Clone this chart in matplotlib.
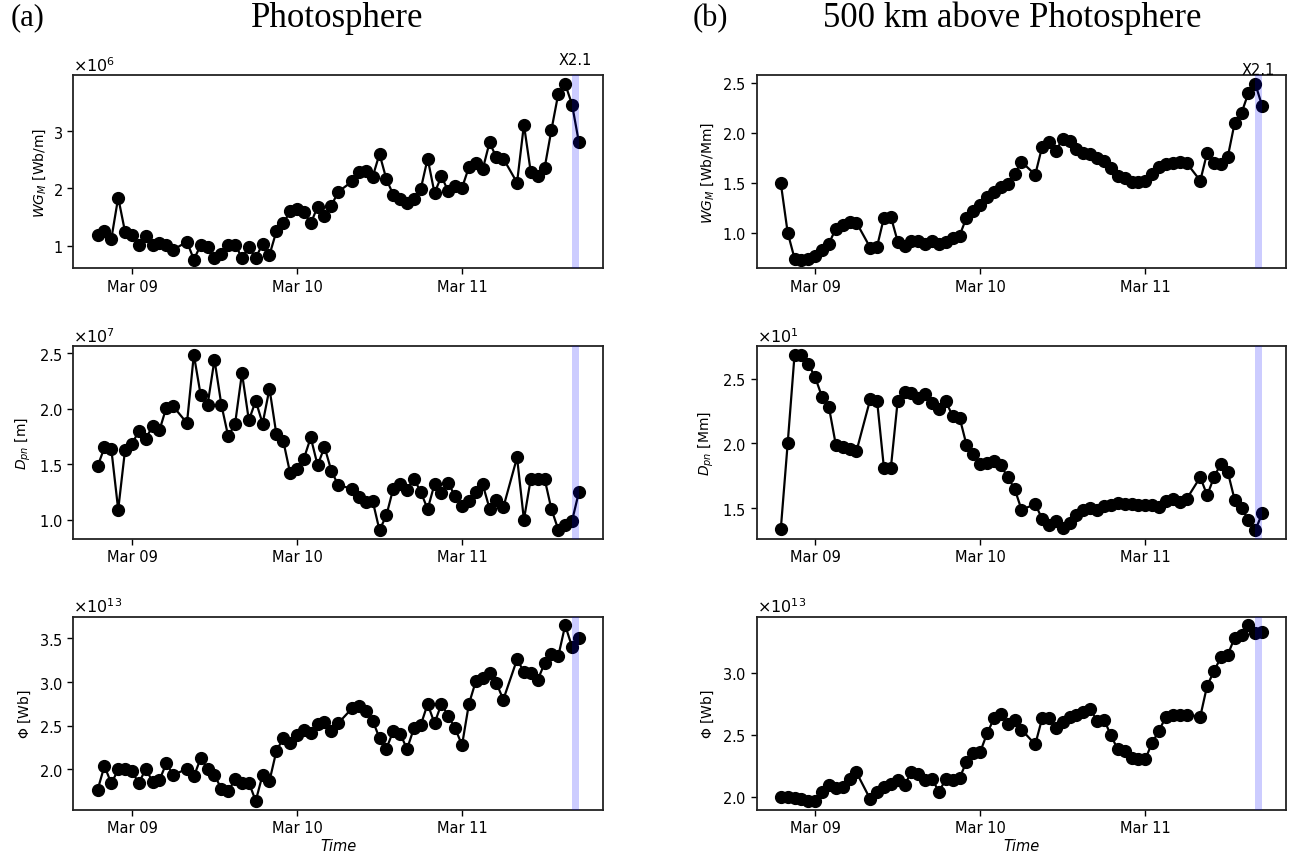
import pandas as pd
import matplotlib
matplotlib.use("Agg")
import matplotlib.pyplot as plt
import matplotlib.dates as mdates
from matplotlib.ticker import ScalarFormatter, MultipleLocator

# hourly samples 2015-03-08 19:00 .. 2015-03-11 17:00, three hours missing
start_time = "2015-03-08 19:00"
end_time = "2015-03-11 17:00"
missing_times = ["2015-03-09 07:00", "2015-03-10 07:00", "2015-03-11 07:00"]
flare_start = "2015-03-11 16:00"
flare_end = "2015-03-11 17:00"
flare_label = "X2.1"

# (a) photosphere
wgm_phot = [1.19, 1.25, 1.12, 1.84, 1.24, 1.19, 1.02, 1.17, 1.01, 1.05, 1.02, 0.93,
            1.07, 0.76, 1.01, 0.97, 0.79, 0.86, 1.02, 1.02, 0.79, 0.97, 0.79, 1.03,
            0.84, 1.25, 1.39, 1.60, 1.64, 1.59, 1.39, 1.68, 1.52, 1.70, 1.94,
            2.12, 2.28, 2.31, 2.20, 2.60, 2.16, 1.89, 1.81, 1.74, 1.82, 1.99, 2.52,
            1.92, 2.21, 1.95, 2.05, 2.01, 2.37, 2.44, 2.33, 2.80, 2.54, 2.52,
            2.10, 3.11, 2.28, 2.21, 2.35, 3.02, 3.65, 3.82, 3.46, 2.80]  # x1e6 Wb/m
dpn_phot = [1.48, 1.65, 1.635, 1.09, 1.63, 1.68, 1.80, 1.73, 1.84, 1.805, 2.01, 2.02,
            1.87, 2.485, 2.12, 2.035, 2.44, 2.035, 1.75, 1.865, 2.32, 1.895, 2.07, 1.865,
            2.18, 1.77, 1.71, 1.42, 1.46, 1.55, 1.74, 1.49, 1.655, 1.44, 1.31,
            1.28, 1.20, 1.16, 1.17, 0.905, 1.04, 1.28, 1.32, 1.27, 1.37, 1.25, 1.095,
            1.32, 1.24, 1.33, 1.21, 1.125, 1.17, 1.25, 1.32, 1.10, 1.18, 1.11,
            1.56, 1.00, 1.37, 1.37, 1.37, 1.095, 0.91, 0.955, 0.99, 1.25]  # x1e7 m
phi_phot = [1.765, 2.04, 1.84, 2.00, 2.01, 1.98, 1.84, 2.01, 1.86, 1.88, 2.07, 1.935,
            2.01, 1.92, 2.13, 2.01, 1.935, 1.78, 1.75, 1.89, 1.85, 1.85, 1.64, 1.94,
            1.87, 2.21, 2.36, 2.30, 2.40, 2.455, 2.42, 2.52, 2.54, 2.445, 2.53,
            2.70, 2.73, 2.67, 2.56, 2.36, 2.24, 2.44, 2.41, 2.235, 2.47, 2.51, 2.75,
            2.53, 2.75, 2.615, 2.47, 2.28, 2.75, 3.01, 3.05, 3.10, 2.99, 2.80,
            3.26, 3.12, 3.10, 3.025, 3.215, 3.32, 3.30, 3.65, 3.405, 3.50]  # x1e13 Wb

# (b) 500 km above photosphere
wgm_500 = [1.495, 1.00, 0.74, 0.73, 0.74, 0.77, 0.83, 0.89, 1.04, 1.08, 1.11, 1.10,
           0.85, 0.86, 1.15, 1.16, 0.91, 0.87, 0.92, 0.92, 0.89, 0.92, 0.89, 0.91,
           0.95, 0.97, 1.15, 1.22, 1.28, 1.355, 1.41, 1.455, 1.49, 1.59, 1.71,
           1.58, 1.86, 1.91, 1.82, 1.94, 1.92, 1.84, 1.80, 1.79, 1.75, 1.72, 1.65,
           1.57, 1.545, 1.51, 1.51, 1.52, 1.59, 1.66, 1.69, 1.70, 1.71, 1.70,
           1.52, 1.80, 1.70, 1.69, 1.76, 2.10, 2.20, 2.40, 2.49, 2.27]  # Wb/Mm
dpn_500 = [13.4, 20.0, 26.85, 26.85, 26.15, 25.1, 23.6, 22.8, 19.9, 19.7, 19.55, 19.4,
           23.4, 23.3, 18.1, 18.1, 23.3, 24.0, 23.9, 23.5, 23.85, 23.1, 22.65, 23.25,
           22.1, 22.0, 19.9, 19.2, 18.4, 18.5, 18.65, 18.3, 17.4, 16.5, 14.9,
           15.3, 14.2, 13.7, 14.0, 13.5, 13.85, 14.5, 14.9, 15.0, 14.9, 15.2, 15.25,
           15.4, 15.3, 15.3, 15.25, 15.25, 15.25, 15.1, 15.55, 15.7, 15.45, 15.7,
           17.4, 16.0, 17.4, 18.45, 17.8, 15.65, 15.0, 14.1, 13.3, 14.6]  # Mm
phi_500 = [2.00, 1.995, 1.99, 1.98, 1.965, 1.965, 2.035, 2.09, 2.07, 2.075, 2.14, 2.195,
           1.98, 2.04, 2.075, 2.105, 2.13, 2.095, 2.195, 2.18, 2.13, 2.14, 2.04, 2.14,
           2.13, 2.15, 2.28, 2.355, 2.36, 2.51, 2.63, 2.665, 2.585, 2.62, 2.54,
           2.42, 2.63, 2.63, 2.55, 2.60, 2.645, 2.66, 2.68, 2.705, 2.61, 2.62, 2.495,
           2.38, 2.37, 2.31, 2.30, 2.30, 2.435, 2.53, 2.645, 2.66, 2.655, 2.66,
           2.645, 2.895, 3.01, 3.125, 3.145, 3.28, 3.30, 3.38, 3.32, 3.325]  # x1e13 Wb

times = pd.date_range(start_time, end_time, freq="h")
times = times[~times.isin(pd.to_datetime(missing_times))]

def plot_panel(ax, values, scale, ylabel, step, show_flare_label, label_y):
    y = [v * scale for v in values]
    ax.plot(times, y, "-o", color="black", markersize=8.5, linewidth=1.6)
    ax.axvspan(pd.Timestamp(flare_start), pd.Timestamp(flare_end),
               color="blue", alpha=0.2, lw=0, zorder=3)
    ax.xaxis.set_major_locator(mdates.DayLocator())
    ax.xaxis.set_major_formatter(mdates.DateFormatter("%b %d"))
    ax.yaxis.set_major_locator(MultipleLocator(step * scale))
    fmt = ScalarFormatter(useMathText=True)
    fmt.set_powerlimits((0, 0))
    ax.yaxis.set_major_formatter(fmt)
    ax.yaxis.get_offset_text().set_fontsize(11.5)
    ax.tick_params(labelsize=10.5, width=1.0, length=4)
    ax.set_ylabel(ylabel, fontsize=10)
    for s in ax.spines.values():
        s.set_linewidth(1.3)
        s.set_color("#222222")
    if show_flare_label:
        mid = pd.Timestamp(flare_start) + (pd.Timestamp(flare_end) - pd.Timestamp(flare_start)) / 2
        ax.text(mid, label_y, flare_label, transform=ax.get_xaxis_transform(),
                ha="center", va="center", fontsize=10.5)

fig = plt.figure(figsize=(12.94, 8.62), dpi=100)
col_x = [0.0568, 0.5848]
row_y = [0.6876, 0.3735, 0.0595]
w, h = 0.4092, 0.224

left_panels = [(wgm_phot, 1e6, r"$WG_M$ [Wb/m]", 1.0),
               (dpn_phot, 1e7, r"$D_{pn}$ [m]", 0.5),
               (phi_phot, 1e13, r"$\Phi$ [Wb]", 0.5)]
right_panels = [(wgm_500, 1.0, r"$WG_M$ [Wb/Mm]", 0.5),
                (dpn_500, 1.0, r"$D_{pn}$ [Mm]", 0.5 * 10),
                (phi_500, 1e13, r"$\Phi$ [Wb]", 0.5)]

for col, panels in enumerate([left_panels, right_panels]):
    for row, (vals, scale, ylab, step) in enumerate(panels):
        ax = fig.add_axes([col_x[col], row_y[row], w, h])
        if col == 1 and row == 1:
            plot_panel(ax, vals, scale, ylab, 5.0, False, 0)
        else:
            plot_panel(ax, vals, scale, ylab, step, row == 0, 1.083 if col == 0 else 1.028)
        if row == 2:
            ax.set_xlabel("Time", fontsize=10.5, style="italic", labelpad=2)

fig.text(0.008, 0.979, "(a)", fontsize=22, family="Liberation Serif", va="center")
fig.text(0.2605, 0.979, "Photosphere", fontsize=25, family="Liberation Serif",
         ha="center", va="center")
fig.text(0.535, 0.979, "(b)", fontsize=22, family="Liberation Serif", va="center")
fig.text(0.782, 0.979, "500 km above Photosphere", fontsize=25, family="Liberation Serif",
         ha="center", va="center")

fig.savefig("out.png", dpi=100)
